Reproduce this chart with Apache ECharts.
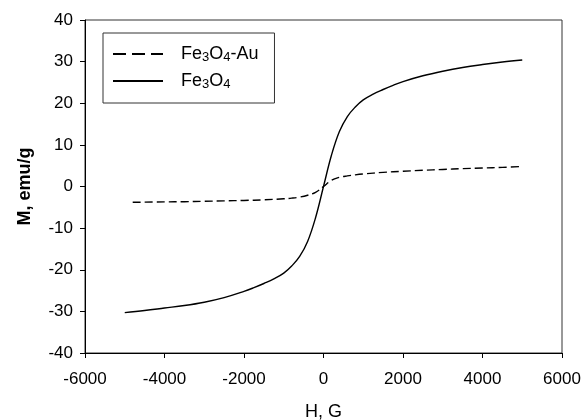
<!DOCTYPE html>
<html>
<head>
<meta charset="utf-8">
<script src="https://cdn.jsdelivr.net/npm/echarts@6/dist/echarts.min.js"></script>
<style>
  html, body { margin: 0; padding: 0; background: #fff; }
  #main { width: 583px; height: 420px; }
</style>
</head>
<body>
<div id="main"></div>
<script>
// field H (G) and magnetisation M (emu/g)
var hFe = [-5000, -4500, -4000, -3500, -3000, -2500, -2000, -1750, -1500, -1250, -1000, -800, -600,
  -400, -200, 0, 200, 400, 600, 800, 1000, 1250, 1500, 1750, 2000, 2500, 3000, 3500, 4000, 4500, 5000];
var mFe = [-30.3, -29.8, -29.2, -28.6, -27.8, -26.7, -25.2, -24.3, -23.3, -22.2, -20.8, -19.1, -16.8,
  -13.2, -7.5, 0, 7.5, 13.2, 16.8, 19.1, 20.8, 22.2, 23.3, 24.3, 25.2, 26.6, 27.7, 28.6, 29.3, 29.9, 30.4];

var hAu = [-4800, -4000, -3500, -3000, -2500, -2000, -1500, -1000, -800, -600, -400, -200, 0,
  200, 400, 600, 800, 1000, 1500, 2000, 2500, 3000, 3500, 4000, 4500, 5000];
var mAu = [-3.8, -3.7, -3.65, -3.55, -3.45, -3.35, -3.2, -2.95, -2.8, -2.55, -2.1, -1.4, 0,
  1.5, 2.2, 2.55, 2.8, 3.0, 3.4, 3.65, 3.9, 4.1, 4.3, 4.45, 4.6, 4.8];

var seriesNames = ['Fe3O4-Au', 'Fe3O4'];

function pairs(xs, ys) {
  var out = [];
  for (var i = 0; i < xs.length; i++) out.push([xs[i], ys[i]]);
  return out;
}

var chart = echarts.init(document.getElementById('main'));
var font = 'Liberation Sans, Arial, sans-serif';

var option = {
  animation: false,
  backgroundColor: '#fff',
  grid: {
    left: 85, right: 21, top: 20, bottom: 67,
    outerBoundsMode: 'none',
    show: true, borderColor: '#333', borderWidth: 1
  },
  legend: {
    orient: 'vertical',
    left: 103, top: 33,
    padding: [12, 16, 12, 9],
    itemGap: 8,
    itemWidth: 50, itemHeight: 14,
    borderColor: '#333', borderWidth: 1,
    itemStyle: { opacity: 0 },
    data: [
      { name: seriesNames[0], lineStyle: { type: [13, 6] } },
      { name: seriesNames[1] }
    ],
    formatter: function (name) {
      if (name === 'Fe3O4-Au') return '{g|}{n|Fe}{s|3}{n|O}{s|4}{n|-Au}';
      return '{g|}{n|Fe}{s|3}{n|O}{s|4}';
    },
    textStyle: {
      fontFamily: font, color: '#000',
      rich: {
        g: { width: 13 },
        n: { fontSize: 18, fontFamily: font, color: '#000' },
        s: { fontSize: 13, fontFamily: font, color: '#000', padding: [7, 0, 0, 0] }
      }
    }
  },
  xAxis: {
    type: 'value',
    min: -6000, max: 6000, interval: 2000,
    name: 'H, G',
    nameLocation: 'middle', nameGap: 50,
    nameTextStyle: { fontFamily: font, fontSize: 18, color: '#000' },
    axisLine: { onZero: false, lineStyle: { color: '#000', width: 1 } },
    axisTick: { inside: false, length: 5, lineStyle: { color: '#000' } },
    axisLabel: {
      fontFamily: font, fontSize: 17, color: '#000', margin: 18,
      formatter: function (v) { return String(v); }
    },
    splitLine: { show: false }
  },
  yAxis: {
    type: 'value',
    min: -40, max: 40, interval: 10,
    name: 'M, emu/g',
    nameLocation: 'middle', nameGap: 51,
    nameTextStyle: { fontFamily: font, fontSize: 18, color: '#000', fontWeight: 'bold' },
    axisLine: { onZero: false, lineStyle: { color: '#000', width: 1 } },
    axisTick: { inside: false, length: 5, lineStyle: { color: '#000' } },
    axisLabel: { fontFamily: font, fontSize: 17, color: '#000', margin: 12 },
    splitLine: { show: false }
  },
  series: [
    {
      name: 'Fe3O4-Au',
      type: 'line',
      smooth: 0.4,
      symbol: 'none',
      lineStyle: { color: '#000', width: 1.4, type: [8, 4] },
      itemStyle: { color: '#000' },
      data: pairs(hAu, mAu)
    },
    {
      name: 'Fe3O4',
      type: 'line',
      smooth: 0.4,
      symbol: 'none',
      lineStyle: { color: '#000', width: 1.4 },
      itemStyle: { color: '#000' },
      data: pairs(hFe, mFe)
    }
  ]
};

chart.setOption(option);
</script>
</body>
</html>
